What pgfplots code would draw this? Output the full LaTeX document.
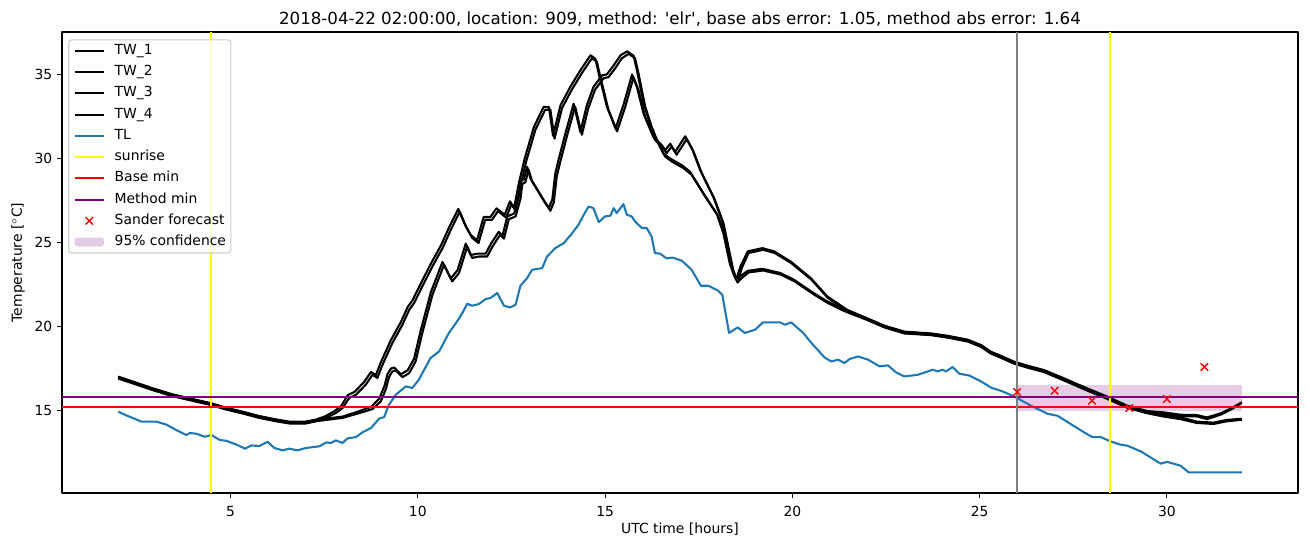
\documentclass[border=0pt]{standalone}
\usepackage{fontspec}
\setmainfont{DejaVu Sans}
\usepackage{pgfplots}
\pgfplotsset{compat=1.18}
\usepackage{pgfplotstable}
\definecolor{tabblue}{HTML}{1F77B4}
\definecolor{mplpurple}{HTML}{800080}
\definecolor{mplyellow}{HTML}{FFFF00}
\definecolor{mplred}{HTML}{FF0000}
\definecolor{mplgray}{HTML}{808080}
\definecolor{legedge}{HTML}{CCCCCC}

\pgfplotsset{
  leglinecode/.style={legend image code/.code={\draw[##1] (0pt,0pt) -- (21pt,0pt); \path[draw=none,fill=none] (0pt,0pt) -- (28.8pt,0pt);}},
  legmarkcode/.style={legend image code/.code={\path[draw=none,fill=none] (0pt,0pt) -- (28.8pt,0pt); \draw[##1, mark=x, mark size=3.8pt] plot coordinates {(10.5pt,0pt)};}},
  legareacode/.style={legend image code/.code={\path[draw=none,fill=none] (0pt,0pt) -- (28.8pt,0pt); \fill[##1] (0pt,-3.2pt) rectangle (21pt,3.2pt);}},
}

\pgfplotstableread{
h T
2.0 14.94
2.22 14.72
2.62 14.35
3.02 14.35
3.29 14.17
3.55 13.85
3.82 13.55
3.91 13.67
4.09 13.63
4.31 13.45
4.49 13.55
4.71 13.26
4.88 13.21
5.15 12.99
5.39 12.74
5.55 12.93
5.77 12.9
5.99 13.15
6.17 12.78
6.39 12.64
6.57 12.74
6.79 12.64
7.01 12.78
7.37 12.88
7.55 13.11
7.68 13.08
7.81 13.23
7.99 13.08
8.12 13.35
8.35 13.43
8.52 13.71
8.75 13.97
8.97 14.53
9.1 14.62
9.23 15.35
9.41 15.95
9.68 16.45
9.85 16.35
10.03 16.85
10.17 17.44
10.34 18.14
10.57 18.53
10.83 19.63
11.05 20.32
11.19 20.82
11.32 21.37
11.45 21.25
11.63 21.35
11.81 21.65
11.94 21.71
12.12 22.01
12.3 21.25
12.47 21.15
12.61 21.31
12.74 22.44
12.92 22.9
13.05 23.39
13.32 23.49
13.45 24.18
13.67 24.68
13.9 24.98
14.12 25.57
14.29 26.07
14.43 26.67
14.56 27.16
14.69 27.06
14.83 26.23
15.0 26.57
15.14 26.61
15.23 27.06
15.31 26.77
15.49 27.3
15.58 26.67
15.71 26.57
15.8 26.27
15.98 25.88
16.11 25.88
16.24 25.38
16.33 24.39
16.47 24.35
16.64 24.07
16.8 24.12
17.05 23.93
17.31 23.39
17.56 22.44
17.76 22.44
18.02 22.14
18.13 21.9
18.31 19.63
18.54 19.96
18.73 19.63
19.0 19.82
19.22 20.26
19.67 20.26
19.8 20.12
19.97 20.26
20.29 19.63
20.51 19.03
20.86 18.17
21.04 17.93
21.22 18.04
21.39 17.84
21.53 18.08
21.75 18.23
22.02 18.04
22.33 17.64
22.55 17.7
22.77 17.28
22.99 17.04
23.35 17.14
23.75 17.44
23.88 17.34
24.01 17.44
24.1 17.34
24.28 17.6
24.46 17.2
24.72 17.1
25.04 16.74
25.3 16.38
25.61 16.15
25.92 15.85
26.37 15.3
26.81 14.82
27.08 14.7
27.43 14.21
27.79 13.71
28.01 13.43
28.23 13.43
28.5 13.17
28.76 12.98
28.94 12.92
29.3 12.58
29.52 12.28
29.83 11.85
30.01 11.95
30.36 11.73
30.58 11.33
32.0 11.33
}\tlTable

\pgfplotstableread{
h a1 h2 a2
2.0 16.95 2.0 17.03
2.4 16.65 2.4 16.73
2.93 16.25 2.93 16.33
3.46 15.89 3.46 15.97
4.0 15.61 4.0 15.69
4.49 15.36 4.49 15.44
4.88 15.1 4.88 15.18
5.33 14.86 5.33 14.94
5.77 14.6 5.77 14.68
6.22 14.4 6.22 14.48
6.57 14.27 6.57 14.35
7.01 14.27 7.01 14.35
7.28 14.39 7.28 14.47
7.55 14.57 7.53 14.67
7.81 14.86 7.78 14.98
7.99 15.16 7.96 15.3
8.17 15.76 8.13 15.93
8.35 15.95 8.31 16.12
8.61 16.55 8.57 16.72
8.79 17.14 8.75 17.31
8.92 16.95 8.88 17.12
9.05 17.7 9.01 17.87
9.32 19.03 9.28 19.2
9.59 20.12 9.55 20.29
9.77 21.01 9.73 21.18
9.9 21.41 9.86 21.58
10.12 22.4 10.08 22.57
10.39 23.59 10.35 23.76
10.66 24.68 10.62 24.85
10.88 25.77 10.84 25.94
11.12 26.85 11.08 27.02
11.3 25.9 11.26 26.07
11.45 25.3 11.41 25.47
11.62 24.98 11.58 25.15
11.8 26.37 11.76 26.54
11.98 26.37 11.94 26.54
12.14 26.88 12.1 27.05
12.36 26.5 12.32 26.67
12.5 27.3 12.46 27.47
12.61 26.9 12.57 27.07
12.74 28.4 12.7 28.57
12.9 29.9 12.86 30.07
13.14 31.73 13.1 31.9
13.4 32.92 13.36 33.09
13.54 32.92 13.5 33.09
13.65 31.2 13.61 31.37
13.85 33.02 13.81 33.19
14.11 34.11 14.07 34.28
14.38 35.1 14.34 35.27
14.65 35.99 14.61 36.16
14.78 35.79 14.74 35.96
14.87 34.9 14.83 35.07
15.09 32.92 15.05 33.09
15.32 31.63 15.28 31.8
15.54 33.11 15.5 33.28
15.76 34.85 15.72 35.02
15.89 34.1 15.85 34.27
16.07 32.5 16.03 32.67
16.33 31.13 16.29 31.3
16.56 30.63 16.52 30.8
16.64 30.33 16.6 30.5
16.78 30.73 16.74 30.9
16.91 30.24 16.87 30.41
17.18 31.17 17.14 31.34
17.36 30.44 17.32 30.61
17.58 29.15 17.54 29.32
17.93 27.56 17.89 27.73
18.16 26.17 18.12 26.34
18.29 24.78 18.25 24.95
18.42 23.39 18.38 23.56
18.54 22.64 18.5 22.81
18.65 23.5 18.62 23.62
18.83 24.39 18.81 24.49
19.22 24.58 19.2 24.68
19.53 24.39 19.51 24.49
19.97 23.79 19.95 23.89
20.51 22.8 20.49 22.9
20.95 21.71 20.93 21.81
21.48 20.91 21.46 21.01
22.02 20.42 22.0 20.5
22.46 19.98 22.46 20.06
22.99 19.63 22.99 19.71
23.7 19.52 23.7 19.6
24.15 19.38 24.15 19.46
24.68 19.15 24.68 19.23
25.04 18.83 25.04 18.91
25.3 18.43 25.3 18.51
25.5 18.25 25.5 18.33
25.92 17.84 25.92 17.92
26.28 17.6 26.28 17.68
26.72 17.34 26.72 17.42
27.25 16.85 27.25 16.93
27.87 16.25 27.87 16.33
28.41 15.76 28.41 15.84
28.94 15.22 28.94 15.3
29.47 14.9 29.47 14.98
29.92 14.8 29.92 14.9
30.36 14.66 30.36 14.76
30.8 14.66 30.8 14.74
31.07 14.5 31.07 14.6
31.43 14.76 31.43 14.84
31.7 15.06 31.7 15.12
32.0 15.46 32.0 15.5
}\pairA

\pgfplotstableread{
h b1 h2 b2
2.0 16.92 2.0 17.0
2.4 16.62 2.4 16.7
2.93 16.22 2.93 16.3
3.46 15.86 3.46 15.94
4.0 15.58 4.0 15.66
4.49 15.33 4.49 15.41
4.88 15.07 4.88 15.15
5.33 14.83 5.33 14.91
5.77 14.57 5.77 14.65
6.22 14.37 6.22 14.45
6.57 14.24 6.57 14.32
7.01 14.24 7.01 14.32
7.28 14.37 7.28 14.45
7.55 14.45 7.55 14.53
7.99 14.57 7.99 14.65
8.44 14.86 8.42 14.96
8.79 15.1 8.76 15.24
9.01 15.55 8.97 15.72
9.15 16.3 9.11 16.47
9.23 17.0 9.19 17.17
9.32 17.34 9.28 17.51
9.41 17.4 9.37 17.57
9.59 17.0 9.55 17.17
9.77 17.24 9.73 17.41
9.94 17.93 9.9 18.1
10.12 19.63 10.08 19.8
10.39 21.9 10.35 22.07
10.7 23.69 10.66 23.86
10.92 22.7 10.88 22.87
11.1 23.2 11.06 23.37
11.32 24.78 11.28 24.95
11.45 24.1 11.41 24.27
11.63 24.18 11.59 24.35
11.85 24.18 11.81 24.35
12.0 24.8 11.96 24.97
12.2 25.48 12.16 25.65
12.3 25.25 12.26 25.42
12.43 26.4 12.39 26.57
12.61 26.57 12.57 26.74
12.74 27.6 12.7 27.77
12.79 28.5 12.75 28.67
12.87 28.6 12.83 28.77
12.96 29.35 12.92 29.52
13.05 28.65 13.01 28.82
13.23 28.0 13.19 28.17
13.4 27.37 13.36 27.54
13.54 26.9 13.5 27.07
13.63 27.4 13.59 27.57
13.71 28.95 13.67 29.12
13.8 29.8 13.76 29.97
14.0 31.5 13.96 31.67
14.2 33.11 14.16 33.28
14.38 31.43 14.34 31.6
14.55 33.0 14.51 33.17
14.73 34.11 14.69 34.28
14.96 34.8 14.92 34.97
15.09 34.86 15.05 35.03
15.27 35.39 15.23 35.56
15.45 35.99 15.41 36.16
15.63 36.25 15.59 36.4
15.8 35.99 15.76 36.14
15.89 35.1 15.85 35.27
16.07 33.11 16.03 33.28
16.24 31.92 16.2 32.09
16.42 30.93 16.38 31.1
16.6 30.14 16.56 30.31
16.78 29.84 16.74 30.01
17.09 29.45 17.05 29.62
17.31 29.05 17.27 29.22
17.67 27.76 17.63 27.93
18.02 26.57 17.98 26.74
18.2 25.38 18.16 25.55
18.37 23.59 18.33 23.76
18.48 22.9 18.44 23.07
18.54 22.64 18.5 22.81
18.65 22.9 18.62 23.02
18.83 23.23 18.81 23.33
19.22 23.35 19.2 23.45
19.7 23.1 19.68 23.2
20.06 22.7 20.04 22.8
20.59 21.9 20.57 22.0
20.95 21.41 20.93 21.51
21.31 21.01 21.29 21.11
21.48 20.85 21.46 20.95
22.02 20.38 22.0 20.46
22.46 19.96 22.46 20.04
22.99 19.6 22.99 19.68
23.7 19.5 23.7 19.58
24.15 19.35 24.15 19.43
24.68 19.12 24.68 19.2
25.04 18.8 25.04 18.88
25.3 18.4 25.3 18.48
25.5 18.22 25.5 18.3
25.92 17.8 25.92 17.88
26.28 17.56 26.28 17.64
26.72 17.3 26.72 17.38
27.25 16.8 27.25 16.88
27.87 16.2 27.87 16.28
28.41 15.7 28.41 15.78
28.94 15.18 28.94 15.26
29.47 14.85 29.47 14.93
29.92 14.65 29.92 14.75
30.36 14.5 30.36 14.6
30.8 14.27 30.8 14.35
31.24 14.21 31.24 14.29
31.6 14.37 31.6 14.45
32.0 14.46 32.0 14.52
}\pairB

\pgfplotstableread{
h T
26 16.11
27 16.19
28 15.6
29 15.16
30 15.7
31 17.6
}\sander

\begin{document}
\begin{tikzpicture}
\useasboundingbox (-44.64pt,-38.88pt) rectangle (898.56pt,354.96pt);
\begin{axis}[
  at={(0pt,0pt)}, anchor=south west,
  scale only axis, width=889.92pt, height=331.92pt,
  xmin=0.5, xmax=33.5, ymin=10.1, ymax=37.55,
  xtick={5,10,15,20,25,30}, ytick={15,20,25,30,35},
  tick align=outside, tick pos=left,
  major tick length=3.5pt,
  every tick/.style={black, line width=0.8pt},
  axis line style={line width=0.8pt},
  /pgf/number format/assume math mode=true,
  ticklabel style={font=\fontsize{10}{12}\selectfont},
  xticklabel style={yshift=-2.5pt},
  xlabel={UTC time [hours]},
  ylabel={Temperature [$^\circ$C]},
  label style={font=\fontsize{10}{12}\selectfont},
  xlabel style={at={(axis description cs:0.5,-0.0783)}, anchor=center},
  ylabel style={at={(axis description cs:-0.0356,0.5)}, anchor=center},
  every axis title shift=0pt,
  title={2018-04-22 02:00:00, location: 909, method: \textquotesingle elr\textquotesingle, base abs error: 1.05, method abs error: 1.64},
  title style={at={(axis description cs:0.5,1.0286)}, anchor=center, font=\fontsize{12}{14}\selectfont},
  legend cell align=left,
  legend style={at={(axis description cs:0,1)}, anchor=north west,
    xshift=4.5pt, yshift=-5.3pt,
    draw=legedge, line width=0.8pt, rounded corners=2pt,
    fill=white, fill opacity=0.8, draw opacity=1, text opacity=1,
    font=\fontsize{10}{12}\selectfont,
    inner xsep=3.5pt, inner ysep=3pt, row sep=5.6pt,
    nodes={inner sep=0pt, text height=7.5pt, text depth=2.2pt}},
  line join=round,
]
% confidence band
\addplot[draw=none, fill=mplpurple, fill opacity=0.2, forget plot] coordinates {(26,14.96) (32,14.96) (32,16.55) (26,16.55)} -- cycle;
% TW lines
\addplot[black, line width=1.5pt, forget plot] table[x=h, y=a1] {\pairA};
\addplot[black, line width=1.5pt, forget plot] table[x=h2, y=a2] {\pairA};
\addplot[black, line width=1.5pt, forget plot] table[x=h, y=b1] {\pairB};
\addplot[black, line width=1.5pt, forget plot] table[x=h2, y=b2] {\pairB};
% TL
\addplot[tabblue, line width=1.5pt, forget plot] table[x=h, y=T] {\tlTable};
% sunrise
\addplot[mplyellow, line width=1.5pt, forget plot] coordinates {(4.47,10.1) (4.47,37.55)};
\addplot[mplyellow, line width=1.5pt, forget plot] coordinates {(28.49,10.1) (28.49,37.55)};
% base / method min
\addplot[mplred, line width=1.5pt, forget plot] coordinates {(0.5,15.2) (33.5,15.2)};
\addplot[mplpurple, line width=1.5pt, forget plot] coordinates {(0.5,15.79) (33.5,15.79)};
% issue time
\addplot[mplgray, line width=1.5pt, forget plot] coordinates {(26,10.1) (26,37.55)};
% Sander forecast
\addplot[only marks, mark=x, mark size=3.8pt, mplred, line width=1pt, forget plot] table[x=h, y=T] {\sander};

% legend
\addlegendimage{black, line width=1.5pt, leglinecode}
\addlegendentry{TW\_1}
\addlegendimage{black, line width=1.5pt, leglinecode}
\addlegendentry{TW\_2}
\addlegendimage{black, line width=1.5pt, leglinecode}
\addlegendentry{TW\_3}
\addlegendimage{black, line width=1.5pt, leglinecode}
\addlegendentry{TW\_4}
\addlegendimage{tabblue, line width=1.5pt, leglinecode}
\addlegendentry{TL}
\addlegendimage{mplyellow, line width=1.5pt, leglinecode}
\addlegendentry{sunrise}
\addlegendimage{mplred, line width=1.5pt, leglinecode}
\addlegendentry{Base min}
\addlegendimage{mplpurple, line width=1.5pt, leglinecode}
\addlegendentry{Method min}
\addlegendimage{mplred, line width=1pt, legmarkcode}
\addlegendentry{Sander forecast}
\addlegendimage{fill=mplpurple, fill opacity=0.2, draw=none, legareacode}
\addlegendentry{95\% confidence}
\end{axis}
\end{tikzpicture}
\end{document}
